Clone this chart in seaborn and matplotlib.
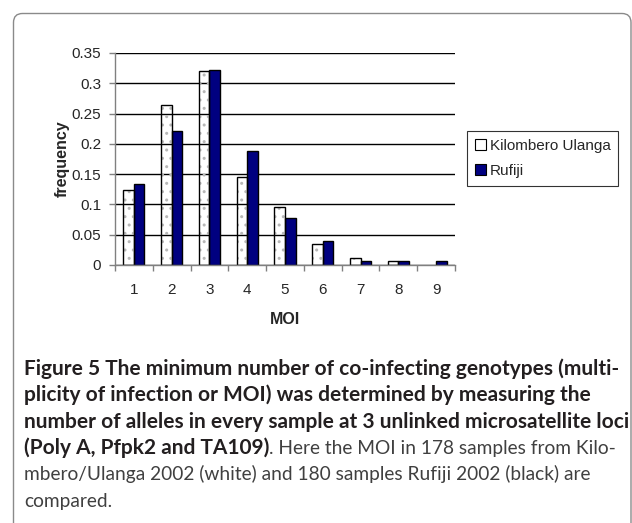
import numpy as np
import pandas as pd
import matplotlib
matplotlib.use("Agg")
import matplotlib.pyplot as plt
import seaborn as sns
from matplotlib.patches import Patch, Rectangle, FancyBboxPatch
from matplotlib.ticker import FixedLocator
from matplotlib.transforms import IdentityTransform

# MOI categories and frequency per site
moi = [1, 2, 3, 4, 5, 6, 7, 8, 9]
kilombero = [0.124, 0.264, 0.320, 0.146, 0.096, 0.034, 0.011, 0.006, 0.0]
rufiji = [0.133, 0.222, 0.322, 0.189, 0.078, 0.039, 0.006, 0.006, 0.006]
sites = ["Kilombero Ulanga", "Rufiji"]
yticks = [0, 0.05, 0.1, 0.15, 0.2, 0.25, 0.3, 0.35]

caption_lines = [
    ("Figure 5 The minimum number of co-infecting genotypes (multi-", ""),
    ("plicity of infection or MOI) was determined by measuring the", ""),
    ("number of alleles in every sample at 3 unlinked microsatellite loci", ""),
    ("(Poly A, Pfpk2 and TA109)", ". Here the MOI in 178 samples from Kilo-"),
    ("", "mbero/Ulanga 2002 (white) and 180 samples Rufiji 2002 (black) are"),
    ("", "compared."),
]

df = pd.DataFrame({
    "MOI": [str(m) for m in moi] * 2,
    "frequency": kilombero + rufiji,
    "site": [sites[0]] * len(moi) + [sites[1]] * len(moi),
})

sns.set_style("white")
plt.rcParams["font.family"] = ["Liberation Sans", "DejaVu Sans"]
plt.rcParams["hatch.linewidth"] = 1.0

W, H = 632, 523
fig = plt.figure(figsize=(W / 100, H / 100), dpi=100)
ax = fig.add_axes([115 / W, 1 - 265 / H, 340 / W, 212 / H])

palette = {sites[0]: "white", sites[1]: "#000080"}
sns.barplot(data=df, x="MOI", y="frequency", hue="site", palette=palette,
            width=0.56, saturation=1, edgecolor="black", linewidth=1.0,
            legend=False, ax=ax)

# dotted fill on the white bars, hide zero-height bars
for p in list(ax.patches):
    if p.get_height() == 0:
        p.set_visible(False)
        continue
    if p.get_facecolor()[:3] == (1.0, 1.0, 1.0):
        ax.add_patch(Rectangle(p.get_xy(), p.get_width(), p.get_height(),
                               fill=False, hatch="..", edgecolor="#b8b8b8",
                               linewidth=0, zorder=p.get_zorder() + 0.1))
        p.set_zorder(p.get_zorder() + 0.2)
        p.set_facecolor("none")

ax.set_ylim(0, 0.35)
ax.set_xlim(-0.5, len(moi) - 0.5)
ax.set_yticks(yticks)
ax.set_yticklabels([f"{v:g}" for v in yticks])
ax.yaxis.grid(True, color="black", linewidth=1.0)
ax.set_axisbelow(True)

ax.xaxis.set_minor_locator(FixedLocator(np.arange(-0.5, len(moi), 1.0)))
ax.tick_params(axis="x", which="major", length=0, pad=13, labelsize=11)
ax.tick_params(axis="x", which="minor", length=4, width=1, color="#808080",
               direction="out", bottom=True)
ax.tick_params(axis="y", length=4, width=1, color="#808080", pad=6,
               labelsize=11, left=True)

for side in ["top", "right"]:
    ax.spines[side].set_visible(False)
for side in ["left", "bottom"]:
    ax.spines[side].set_color("#808080")
    ax.spines[side].set_linewidth(1.0)

ax.set_xlabel("MOI", fontweight="bold", fontsize=11.5, labelpad=11)
ax.set_ylabel("frequency", fontweight="bold", fontsize=11.5)
ax.yaxis.set_label_coords(-0.132, 0.5)

handles = [Patch(facecolor="white", edgecolor="black", linewidth=0.8),
           Patch(facecolor="#000080", edgecolor="black", linewidth=0.8)]
leg = fig.legend(handles, sites, loc="upper left",
                 bbox_to_anchor=(467 / W, 1 - 131 / H), frameon=True,
                 fancybox=False, edgecolor="black", fontsize=11,
                 handlelength=0.75, handleheight=0.75, handletextpad=0.25,
                 labelspacing=0.75, borderpad=0.5, borderaxespad=0)
leg.get_frame().set_linewidth(0.8)

# outer rounded frame of the figure panel
fig.add_artist(FancyBboxPatch((13.5, -30), 617.5, H - 13.5 + 30,
                              boxstyle="round,pad=0,rounding_size=9",
                              transform=IdentityTransform(), fill=False,
                              edgecolor="#8a8a8a", linewidth=1.0))

# caption: fit bold and regular sizes to the line widths seen in the figure
cap_font = ["Lato", "DejaVu Sans"]
probe_b = fig.text(0, 0, caption_lines[2][0], fontsize=12, fontweight="bold",
                   family=cap_font)
probe_r = fig.text(0, 0, caption_lines[4][1], fontsize=12, family=cap_font)
fig.canvas.draw()
bold_size = 12 * 600 / probe_b.get_window_extent().width
reg_size = 12 * 565 / probe_r.get_window_extent().width
probe_b.remove()
probe_r.remove()

baselines = [375, 401.3, 427.6, 453.9, 480.2, 506.5]
x0 = 24 / W
for (bold, regular), yb in zip(caption_lines, baselines):
    yf = 1 - yb / H
    if bold:
        t = fig.text(x0, yf, bold, fontsize=bold_size, fontweight="bold",
                     family=cap_font, color="#231f20", va="baseline")
        if regular:
            ax.annotate(regular, xy=(1, yf), xycoords=(t, "figure fraction"),
                        fontsize=reg_size, family=cap_font, color="#404040",
                        va="baseline", annotation_clip=False)
    else:
        fig.text(x0, yf, regular, fontsize=reg_size, family=cap_font,
                 color="#404040", va="baseline")

fig.savefig("out.png", dpi=100)
